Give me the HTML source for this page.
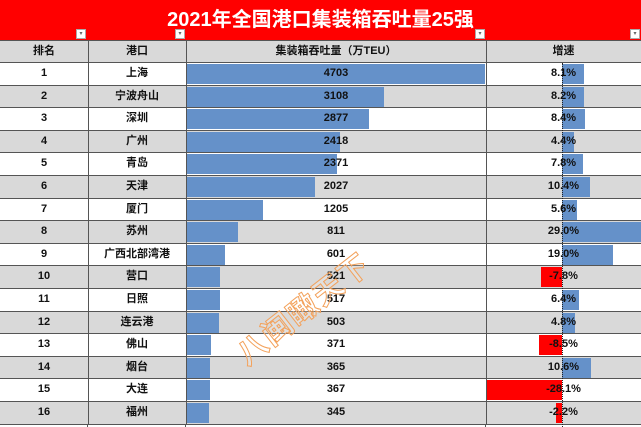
<!DOCTYPE html>
<html><head><meta charset="utf-8"><style>
html{width:641px;height:427px;overflow:hidden}
body{margin:0;width:641px;height:427px;overflow:hidden;background:#fff;font-family:"Liberation Sans","Noto Sans CJK SC",sans-serif;position:relative}
.t{position:absolute;left:0;top:0;width:641px;height:41px;background:#f00;color:#fff;font-weight:bold;font-size:20px;text-align:center;line-height:40px;box-sizing:border-box;border-bottom:1px solid #555}
.fb{position:absolute;top:29px;width:10px;height:10px;background:#fff;border:1px solid #aaa;box-sizing:border-box;font-size:6px;color:#666;line-height:8px;text-align:center}
.r{position:absolute;left:0;width:641px;height:22.6px;font-size:11px;font-weight:bold;color:#111;border-bottom:1px solid #555;box-sizing:border-box}
.r div{position:absolute;top:0;height:100%;line-height:21px;text-align:center}
.g{background:#d9d9d9}
.c1{left:0;width:88px;border-right:1px solid #555}
.c2{left:88px;width:98px;border-right:1px solid #555}
.c3{left:186px;width:300px;border-right:1px solid #555}
.c4{left:486px;width:155px}
.b{position:absolute;top:1px!important;height:20px!important;background:#6591c9}
.n{background:#f00!important}
.ax{position:absolute;left:562px;top:63px;height:364px;border-left:1px dotted #222}
.txt{z-index:2}
.wm{position:absolute;left:222px;top:285px;font-size:30px;font-weight:bold;color:rgba(255,255,255,0.2);-webkit-text-stroke:1px #f3a15a;transform:rotate(-38deg);letter-spacing:2px;z-index:5}
.bot{position:absolute;left:0;top:424.6px;width:641px;height:3px;overflow:hidden}
</style></head><body>
<div class="t">2021年全国港口集装箱吞吐量25强</div>
<div class="fb" style="left:76px">▾</div><div class="fb" style="left:175px">▾</div><div class="fb" style="left:475px">▾</div><div class="fb" style="left:630px">▾</div>
<div class="r g" style="top:41px;height:22px;font-weight:bold"><div class="c1">排名</div><div class="c2">港口</div><div class="c3">集装箱吞吐量（万TEU）</div><div class="c4">增速</div></div>

<div class="r" style="top:63px"><div class="c1">1</div><div class="c2">上海</div><div class="c3"><div class="b" style="left:1px;width:298px"></div><div class="txt" style="left:0;width:300px">4703</div></div><div class="c4"><div class="b" style="left:76px;width:22px"></div><div class="txt" style="left:0;width:155px">8.1%</div></div></div>
<div class="r g" style="top:85.6px"><div class="c1">2</div><div class="c2">宁波舟山</div><div class="c3"><div class="b" style="left:1px;width:197px"></div><div class="txt" style="left:0;width:300px">3108</div></div><div class="c4"><div class="b" style="left:76px;width:22px"></div><div class="txt" style="left:0;width:155px">8.2%</div></div></div>
<div class="r" style="top:108.2px"><div class="c1">3</div><div class="c2">深圳</div><div class="c3"><div class="b" style="left:1px;width:182px"></div><div class="txt" style="left:0;width:300px">2877</div></div><div class="c4"><div class="b" style="left:76px;width:23px"></div><div class="txt" style="left:0;width:155px">8.4%</div></div></div>
<div class="r g" style="top:130.8px"><div class="c1">4</div><div class="c2">广州</div><div class="c3"><div class="b" style="left:1px;width:153px"></div><div class="txt" style="left:0;width:300px">2418</div></div><div class="c4"><div class="b" style="left:76px;width:12px"></div><div class="txt" style="left:0;width:155px">4.4%</div></div></div>
<div class="r" style="top:153.4px"><div class="c1">5</div><div class="c2">青岛</div><div class="c3"><div class="b" style="left:1px;width:150px"></div><div class="txt" style="left:0;width:300px">2371</div></div><div class="c4"><div class="b" style="left:76px;width:21px"></div><div class="txt" style="left:0;width:155px">7.8%</div></div></div>
<div class="r g" style="top:176px"><div class="c1">6</div><div class="c2">天津</div><div class="c3"><div class="b" style="left:1px;width:128px"></div><div class="txt" style="left:0;width:300px">2027</div></div><div class="c4"><div class="b" style="left:76px;width:28px"></div><div class="txt" style="left:0;width:155px">10.4%</div></div></div>
<div class="r" style="top:198.6px"><div class="c1">7</div><div class="c2">厦门</div><div class="c3"><div class="b" style="left:1px;width:76px"></div><div class="txt" style="left:0;width:300px">1205</div></div><div class="c4"><div class="b" style="left:76px;width:15px"></div><div class="txt" style="left:0;width:155px">5.6%</div></div></div>
<div class="r g" style="top:221.2px"><div class="c1">8</div><div class="c2">苏州</div><div class="c3"><div class="b" style="left:1px;width:51px"></div><div class="txt" style="left:0;width:300px">811</div></div><div class="c4"><div class="b" style="left:76px;width:79px"></div><div class="txt" style="left:0;width:155px">29.0%</div></div></div>
<div class="r" style="top:243.8px"><div class="c1">9</div><div class="c2">广西北部湾港</div><div class="c3"><div class="b" style="left:1px;width:38px"></div><div class="txt" style="left:0;width:300px">601</div></div><div class="c4"><div class="b" style="left:76px;width:51px"></div><div class="txt" style="left:0;width:155px">19.0%</div></div></div>
<div class="r g" style="top:266.4px"><div class="c1">10</div><div class="c2">营口</div><div class="c3"><div class="b" style="left:1px;width:33px"></div><div class="txt" style="left:0;width:300px">521</div></div><div class="c4"><div class="b n" style="left:55px;width:21px"></div><div class="txt" style="left:0;width:155px">-7.8%</div></div></div>
<div class="r" style="top:289px"><div class="c1">11</div><div class="c2">日照</div><div class="c3"><div class="b" style="left:1px;width:33px"></div><div class="txt" style="left:0;width:300px">517</div></div><div class="c4"><div class="b" style="left:76px;width:17px"></div><div class="txt" style="left:0;width:155px">6.4%</div></div></div>
<div class="r g" style="top:311.6px"><div class="c1">12</div><div class="c2">连云港</div><div class="c3"><div class="b" style="left:1px;width:32px"></div><div class="txt" style="left:0;width:300px">503</div></div><div class="c4"><div class="b" style="left:76px;width:13px"></div><div class="txt" style="left:0;width:155px">4.8%</div></div></div>
<div class="r" style="top:334.2px"><div class="c1">13</div><div class="c2">佛山</div><div class="c3"><div class="b" style="left:1px;width:24px"></div><div class="txt" style="left:0;width:300px">371</div></div><div class="c4"><div class="b n" style="left:53px;width:23px"></div><div class="txt" style="left:0;width:155px">-8.5%</div></div></div>
<div class="r g" style="top:356.8px"><div class="c1">14</div><div class="c2">烟台</div><div class="c3"><div class="b" style="left:1px;width:23px"></div><div class="txt" style="left:0;width:300px">365</div></div><div class="c4"><div class="b" style="left:76px;width:29px"></div><div class="txt" style="left:0;width:155px">10.6%</div></div></div>
<div class="r" style="top:379.4px"><div class="c1">15</div><div class="c2">大连</div><div class="c3"><div class="b" style="left:1px;width:23px"></div><div class="txt" style="left:0;width:300px">367</div></div><div class="c4"><div class="b n" style="left:1px;width:75px"></div><div class="txt" style="left:0;width:155px">-28.1%</div></div></div>
<div class="r g" style="top:402px"><div class="c1">16</div><div class="c2">福州</div><div class="c3"><div class="b" style="left:1px;width:22px"></div><div class="txt" style="left:0;width:300px">345</div></div><div class="c4"><div class="b n" style="left:70px;width:6px"></div><div class="txt" style="left:0;width:155px">-2.2%</div></div></div>
<div class="bot"><div style="position:absolute;left:87px;top:0;width:1px;height:3px;background:#555"></div><div style="position:absolute;left:185px;top:0;width:1px;height:3px;background:#555"></div><div style="position:absolute;left:485px;top:0;width:1px;height:3px;background:#555"></div></div>
<div class="ax"></div>
<div class="wm">八闽瞰天下</div>
</body></html>
